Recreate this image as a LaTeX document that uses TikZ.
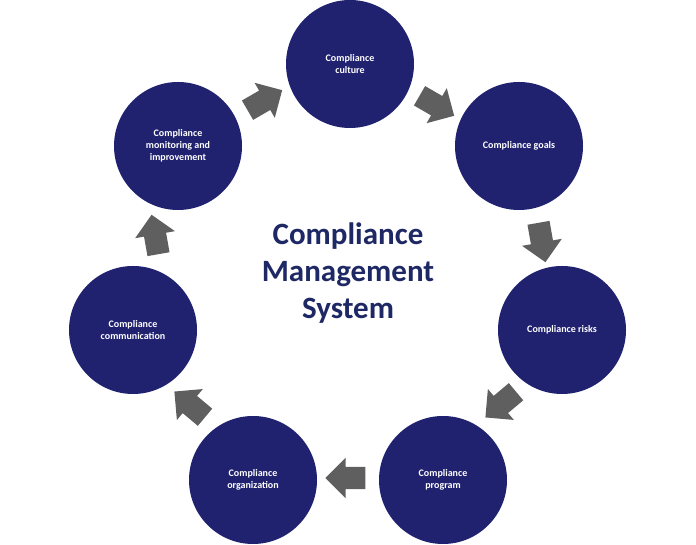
\documentclass[tikz,border=0pt]{standalone}
\usepackage{fontspec}
\setmainfont{Carlito}
\usetikzlibrary{shapes.arrows}
\definecolor{navy}{RGB}{32,34,112}
\definecolor{title}{RGB}{30,40,100}
\definecolor{arr}{RGB}{95,95,95}
\tikzset{
  circ/.style={circle,fill=navy,minimum size=128pt,inner sep=0pt,text=white,font=\fontsize{10}{12}\selectfont\bfseries,align=center},
  blockarrow/.style={single arrow,fill=arr,draw=none,minimum height=40pt,minimum width=40pt,single arrow head extend=9pt,inner xsep=0pt,inner ysep=11pt}
}
\begin{document}
\begin{tikzpicture}[x=1pt,y=1pt]
\useasboundingbox (0,0) rectangle (696,545);
\node[circ] (cul) at (350,481) {Compliance\\culture};
\node[circ] (goa) at (519,399) {Compliance goals};
\node[circ] (ris) at (562,215) {Compliance risks};
\node[circ] (pro) at (443,65) {Compliance\\program};
\node[circ] (org) at (253,65) {Compliance\\organization};
\node[circ] (com) at (133,215) {Compliance\\communication};
\node[circ] (mon) at (178,399) {Compliance\\monitoring and\\improvement};
\node[font=\fontsize{31}{37}\selectfont\bfseries,text=title,align=center] (t) at (348,272) {Compliance\\Management\\System};
\node[blockarrow,rotate=30] (a1) at (260,442) {};
\node[blockarrow,rotate=-30] (a2) at (432,442) {};
\node[blockarrow,rotate=-80] (a3) at (541,308) {};
\node[blockarrow,rotate=-140] (a4) at (505,144) {};
\node[blockarrow,rotate=180] (a5) at (351,67) {};
\node[blockarrow,rotate=140] (a6) at (194,137) {};
\node[blockarrow,rotate=100] (a7) at (156,305) {};
\end{tikzpicture}
\end{document}
